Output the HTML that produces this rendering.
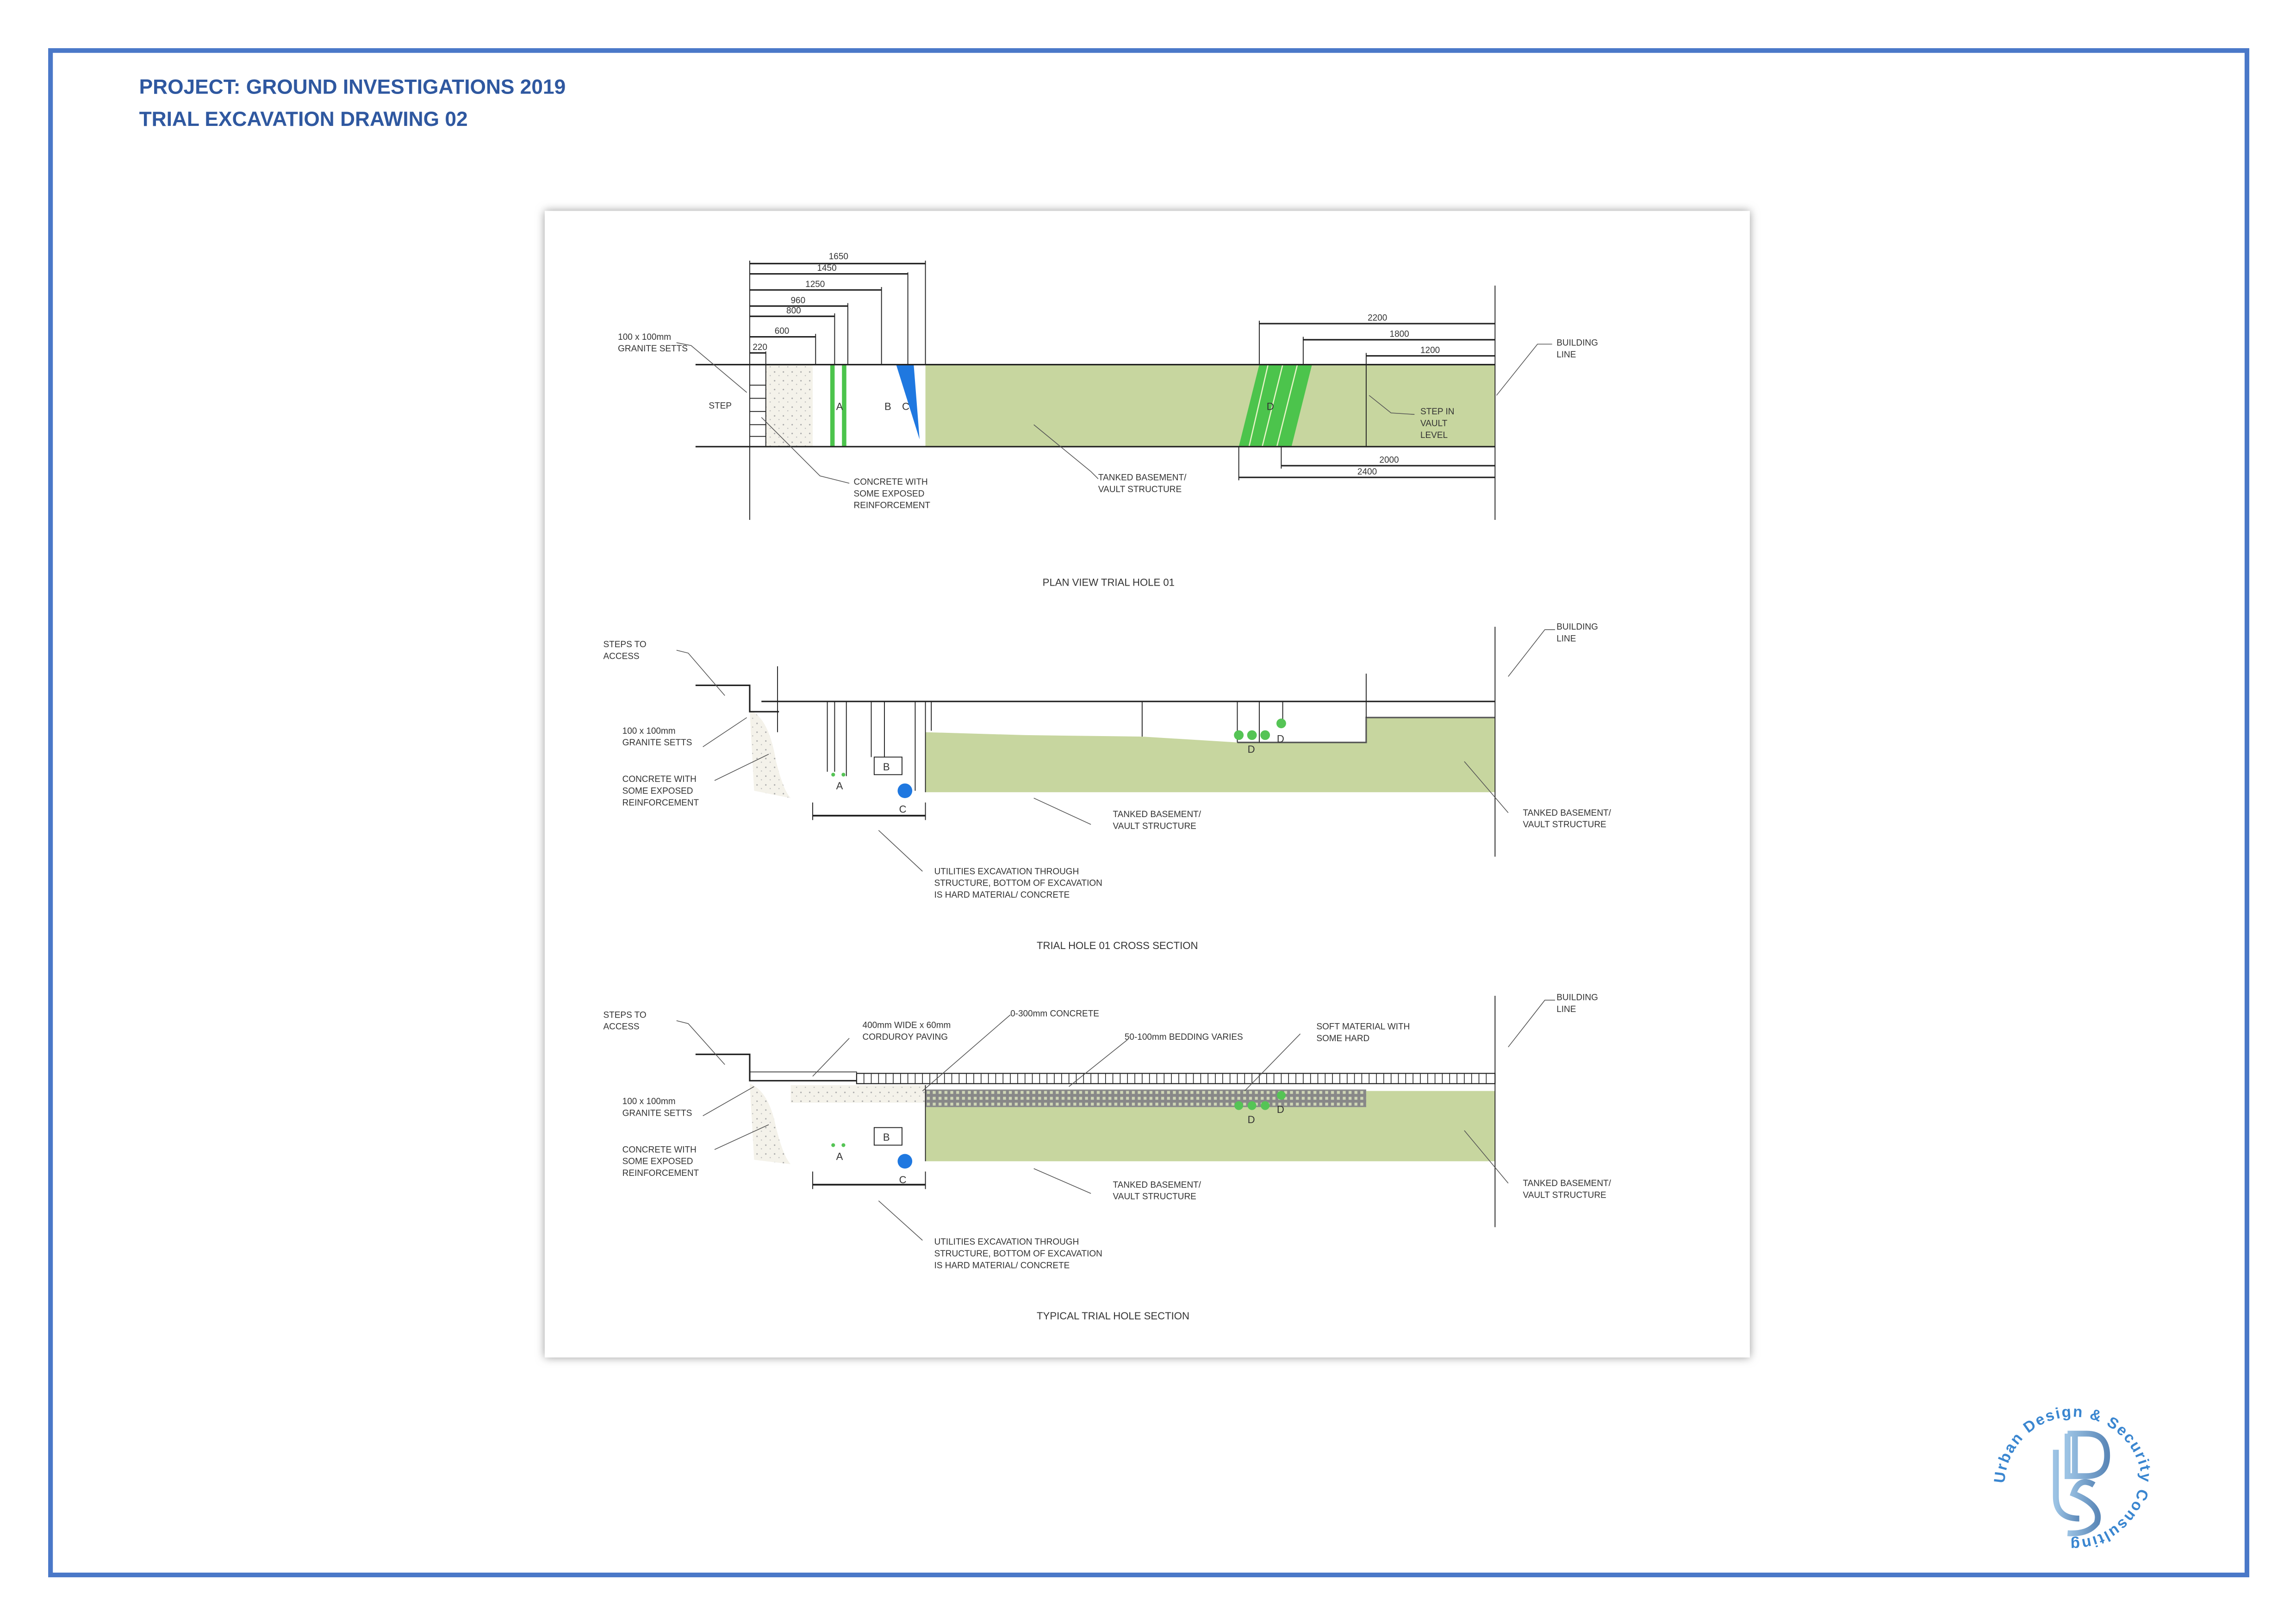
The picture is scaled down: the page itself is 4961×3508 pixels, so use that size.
<!DOCTYPE html>
<html><head><meta charset="utf-8"><style>
html,body{margin:0;padding:0;background:#fff}
svg{display:block}
text{font-family:"Liberation Sans",sans-serif}
</style></head><body>
<svg width="4961" height="3508" viewBox="0 0 1568 1109" preserveAspectRatio="none" xmlns="http://www.w3.org/2000/svg">
<defs>
<pattern id="st" width="6" height="6" patternUnits="userSpaceOnUse"><rect width="6" height="6" fill="#f4f2ea"/><circle cx="1" cy="2" r="0.5" fill="#aaa"/><circle cx="4" cy="4.5" r="0.4" fill="#bbb"/></pattern>
<pattern id="hb" width="4" height="4" patternUnits="userSpaceOnUse"><rect width="4" height="4" fill="#888"/><rect x="1" y="1" width="2" height="2" fill="#cfd6b5"/></pattern>
<filter id="sh" x="-5%" y="-5%" width="110%" height="110%"><feDropShadow dx="0" dy="0" stdDeviation="3" flood-color="#999"/></filter>
<linearGradient id="lg" x1="0" x2="1"><stop offset="0" stop-color="#9cc3e4"/><stop offset="1" stop-color="#5b88b8"/></linearGradient>
</defs>
<rect x="34.5" y="34.5" width="1500" height="1041" fill="none" stroke="#4a78c8" stroke-width="3.2"/>
<text x="95" y="64" font-size="14" font-weight="bold" fill="#2f58a0">PROJECT: GROUND INVESTIGATIONS 2019</text>
<text x="95" y="86" font-size="14" font-weight="bold" fill="#2f58a0">TRIAL EXCAVATION DRAWING 02</text>
<rect x="372" y="144" width="823" height="783" fill="#fff" filter="url(#sh)"/>

<g stroke="#222" stroke-width="0.6" fill="none" font-size="6">
<rect x="632" y="249" width="389" height="56" fill="#c7d69f" stroke="none"/>
<rect x="523" y="249" width="32" height="56" fill="url(#st)" stroke="none"/>
<path d="M846 305 L860 249 L896 249 L882 305Z" fill="#4cc44c" stroke="none"/>
<path d="M853 305 L866 249 M862 305 L876 249 M872 305 L886 249" stroke="#e8f5c8" stroke-width="0.8"/>
<rect x="567" y="249" width="3" height="56" fill="#4cc44c" stroke="none"/>
<rect x="575" y="249" width="3" height="56" fill="#4cc44c" stroke="none"/>
<path d="M612 249 L624 249 L628 300 Z" fill="#1f78e0" stroke="none"/>
<line x1="475" y1="249" x2="1021" y2="249" stroke-width="1"/>
<line x1="475" y1="305" x2="1021" y2="305" stroke-width="1"/>
<line x1="512" y1="178" x2="512" y2="355"/>
<line x1="523" y1="240" x2="523" y2="305"/>
<path d="M512 263h11M512 272h11M512 281h11M512 290h11M512 298h11"/>
<line x1="933" y1="249" x2="933" y2="305"/>
<line x1="1021" y1="195" x2="1021" y2="355"/>
<g stroke-width="1">
<path d="M512 180H632M512 187H620M512 198H602M512 209H579M512 216H570M512 230H557M512 241H523"/>
<path d="M860 221H1021M890 232H1021M933 243H1021M875 318H1021M846 326H1021"/>
</g>
<path d="M632 178V249M620 186V249M602 196V249M579 207V249M570 214V249M557 228V249M860 219V249M890 230V249M933 241V249M875 305V320M846 305V328"/>
<path d="M462 234L472 236 L510 268 M520 285 L560 325 L580 330 M706 290 L745 322 L750 327 M1022 270 L1050 235 L1060 235 M935 270 L950 282 L966 283" stroke="#555" stroke-width="0.5"/>
</g>
<g font-size="6" fill="#333" stroke="none">
<text x="566" y="177">1650</text><text x="558" y="185">1450</text><text x="550" y="196">1250</text><text x="540" y="207">960</text><text x="537" y="214">800</text><text x="529" y="228">600</text><text x="514" y="239">220</text>
<text x="934" y="219">2200</text><text x="949" y="230">1800</text><text x="970" y="241">1200</text><text x="942" y="316">2000</text><text x="927" y="324">2400</text>
<text x="422" y="232">100 x 100mm</text><text x="422" y="240">GRANITE SETTS</text><text x="484" y="279">STEP</text>
<text x="583" y="331">CONCRETE WITH</text><text x="583" y="339">SOME EXPOSED</text><text x="583" y="347">REINFORCEMENT</text>
<text x="750" y="328">TANKED BASEMENT/</text><text x="750" y="336">VAULT STRUCTURE</text>
<text x="970" y="283">STEP IN</text><text x="970" y="291">VAULT</text><text x="970" y="299">LEVEL</text>
<text x="1063" y="236">BUILDING</text><text x="1063" y="244">LINE</text>
<text x="571" y="280" font-size="7">A</text><text x="604" y="280" font-size="7">B</text><text x="616" y="280" font-size="7">C</text><text x="865" y="280" font-size="7">D</text>
<text x="712" y="400" font-size="7">PLAN VIEW TRIAL HOLE 01</text>
</g>

<g stroke="#222" stroke-width="0.6" fill="none">
<path d="M512 485 Q525 490 530 520 Q535 540 540 545 L515 540 Z" fill="url(#st)" stroke="none"/>
<path d="M632 500 L700 502 L780 503 L845 507 L933 507 L933 490 L1021 490 L1021 541 L632 541 Z" fill="#c7d69f" stroke="none"/>
<line x1="520" y1="479" x2="1021" y2="479" stroke-width="1"/>
<path d="M475 468 H512 V486 H532" stroke-width="1"/>
<path d="M845 507 H933 V490 H1021" stroke="#555" stroke-width="1"/>
<line x1="1021" y1="428" x2="1021" y2="585"/>
<line x1="632" y1="479" x2="632" y2="541"/>
<path d="M531 455V500M565 479V527M570 479V527M578 479V530M595 479V517M604 479V517M625 479V540M636 479V499M780 479V503M845 479V507M860 479V507M876 479V495M933 460V490M555 548V560M632 548V560"/>
<path d="M555 557H632" stroke-width="1.2"/>
<rect x="597" y="517" width="19" height="12"/>
<path d="M462 444 L470 446 L495 475 M480 510 L510 490 M488 533 L525 515 M706 545 L745 563 M600 567 L630 595 M1030 462 L1055 430 L1062 430 M1000 520 L1030 555" stroke="#555" stroke-width="0.5"/>
</g>
<circle cx="618" cy="540" r="5" fill="#1f78e0"/>
<g fill="#55c455"><circle cx="846" cy="502" r="3.3"/><circle cx="855" cy="502" r="3.3"/><circle cx="864" cy="502" r="3.3"/><circle cx="875" cy="494" r="3.3"/><circle cx="569" cy="529" r="1.3"/><circle cx="576" cy="529" r="1.3"/></g>
<g font-size="6" fill="#333">
<text x="412" y="442">STEPS TO</text><text x="412" y="450">ACCESS</text>
<text x="425" y="501">100 x 100mm</text><text x="425" y="509">GRANITE SETTS</text>
<text x="425" y="534">CONCRETE WITH</text><text x="425" y="542">SOME EXPOSED</text><text x="425" y="550">REINFORCEMENT</text>
<text x="760" y="558">TANKED BASEMENT/</text><text x="760" y="566">VAULT STRUCTURE</text>
<text x="1040" y="557">TANKED BASEMENT/</text><text x="1040" y="565">VAULT STRUCTURE</text>
<text x="1063" y="430">BUILDING</text><text x="1063" y="438">LINE</text>
<text x="638" y="597">UTILITIES EXCAVATION THROUGH</text><text x="638" y="605">STRUCTURE, BOTTOM OF EXCAVATION</text><text x="638" y="613">IS HARD MATERIAL/ CONCRETE</text>
<text x="571" y="539" font-size="7">A</text><text x="603" y="526" font-size="7">B</text><text x="614" y="555" font-size="7">C</text><text x="852" y="514" font-size="7">D</text><text x="872" y="507" font-size="7">D</text>
<text x="708" y="648" font-size="7">TRIAL HOLE 01 CROSS SECTION</text>
</g>

<g stroke="#222" stroke-width="0.6" fill="none">
<path d="M512 740 Q525 745 530 770 Q535 790 540 795 L515 792 Z" fill="url(#st)" stroke="none"/>
<rect x="540" y="741" width="92" height="12" fill="url(#st)" stroke="none"/>
<rect x="632" y="745" width="389" height="48" fill="#c7d69f" stroke="none"/>
<rect x="632" y="744" width="301" height="12" fill="url(#hb)" stroke="none"/>
<rect x="585" y="733" width="436" height="7" fill="#fff" stroke-width="0.7"/>
<path d="M590 733V740M595 733V740M600 733V740M605 733V740M610 733V740M615 733V740M620 733V740M625 733V740M630 733V740M635 733V740M640 733V740M645 733V740M650 733V740M655 733V740M660 733V740M665 733V740M670 733V740M675 733V740M680 733V740M685 733V740M690 733V740M695 733V740M700 733V740M705 733V740M710 733V740M715 733V740M720 733V740M725 733V740M730 733V740M735 733V740M740 733V740M745 733V740M750 733V740M755 733V740M760 733V740M765 733V740M770 733V740M775 733V740M780 733V740M785 733V740M790 733V740M795 733V740M800 733V740M805 733V740M810 733V740M815 733V740M820 733V740M825 733V740M830 733V740M835 733V740M840 733V740M845 733V740M850 733V740M855 733V740M860 733V740M865 733V740M870 733V740M875 733V740M880 733V740M885 733V740M890 733V740M895 733V740M900 733V740M905 733V740M910 733V740M915 733V740M920 733V740M925 733V740M930 733V740M935 733V740M940 733V740M945 733V740M950 733V740M955 733V740M960 733V740M965 733V740M970 733V740M975 733V740M980 733V740M985 733V740M990 733V740M995 733V740M1000 733V740M1005 733V740M1010 733V740M1015 733V740" stroke-width="0.5"/>
<path d="M475 720 H512 V738 H585" stroke-width="1"/>
<rect x="512" y="732" width="73" height="6" stroke-width="0.5"/>
<line x1="632" y1="741" x2="632" y2="793"/>
<line x1="1021" y1="680" x2="1021" y2="838"/>
<rect x="597" y="770" width="19" height="12"/>
<path d="M555 800V812M632 800V812"/><path d="M555 809H632" stroke-width="1.2"/>
<path d="M462 697 L470 699 L495 727 M480 762 L515 742 M488 785 L525 768 M580 709 L555 735 M690 693 L630 745 M770 710 L730 742 M888 706 L850 745 M706 798 L745 815 M600 820 L630 847 M1030 715 L1055 683 L1062 683 M1000 772 L1030 808" stroke="#555" stroke-width="0.5"/>
</g>
<circle cx="618" cy="793" r="5" fill="#1f78e0"/>
<g fill="#55c455"><circle cx="846" cy="755" r="3"/><circle cx="855" cy="755" r="3"/><circle cx="864" cy="755" r="3"/><circle cx="875" cy="748" r="3"/><circle cx="569" cy="782" r="1.3"/><circle cx="576" cy="782" r="1.3"/></g>
<g font-size="6" fill="#333">
<text x="412" y="695">STEPS TO</text><text x="412" y="703">ACCESS</text>
<text x="425" y="754">100 x 100mm</text><text x="425" y="762">GRANITE SETTS</text>
<text x="425" y="787">CONCRETE WITH</text><text x="425" y="795">SOME EXPOSED</text><text x="425" y="803">REINFORCEMENT</text>
<text x="589" y="702">400mm WIDE x 60mm</text><text x="589" y="710">CORDUROY PAVING</text>
<text x="690" y="694">0-300mm CONCRETE</text>
<text x="768" y="710">50-100mm BEDDING VARIES</text>
<text x="899" y="703">SOFT MATERIAL WITH</text><text x="899" y="711">SOME HARD</text>
<text x="760" y="811">TANKED BASEMENT/</text><text x="760" y="819">VAULT STRUCTURE</text>
<text x="1040" y="810">TANKED BASEMENT/</text><text x="1040" y="818">VAULT STRUCTURE</text>
<text x="1063" y="683">BUILDING</text><text x="1063" y="691">LINE</text>
<text x="638" y="850">UTILITIES EXCAVATION THROUGH</text><text x="638" y="858">STRUCTURE, BOTTOM OF EXCAVATION</text><text x="638" y="866">IS HARD MATERIAL/ CONCRETE</text>
<text x="571" y="792" font-size="7">A</text><text x="603" y="779" font-size="7">B</text><text x="614" y="808" font-size="7">C</text><text x="852" y="767" font-size="7">D</text><text x="872" y="760" font-size="7">D</text>
<text x="708" y="901" font-size="7">TYPICAL TRIAL HOLE SECTION</text>
</g>

<path d="M1404 1022 V990 M1404 1022 Q1404 1037 1420 1037" stroke="url(#lg)" stroke-width="4" fill="none"/>
<path d="M1412 979 H1425 Q1439 979 1439 994 Q1439 1008 1425 1008 H1412 V979 M1417 979 V1008" stroke="url(#lg)" stroke-width="4" fill="none"/>
<path d="M1430 1014 Q1420 1008 1416 1020 Q1436 1028 1432 1040 Q1426 1048 1412 1047" stroke="url(#lg)" stroke-width="4" fill="none"/>
<path id="arc" d="M1369 1013 A47 47 0 0 1 1462 1005 A47 47 0 0 1 1403 1050" fill="none"/>
<text font-size="10.5" font-weight="bold" letter-spacing="0.9" fill="#3a86d0" font-family="DejaVu Sans,sans-serif"><textPath href="#arc">Urban Design &amp; Security Consulting</textPath></text>
</svg>
</body></html>
